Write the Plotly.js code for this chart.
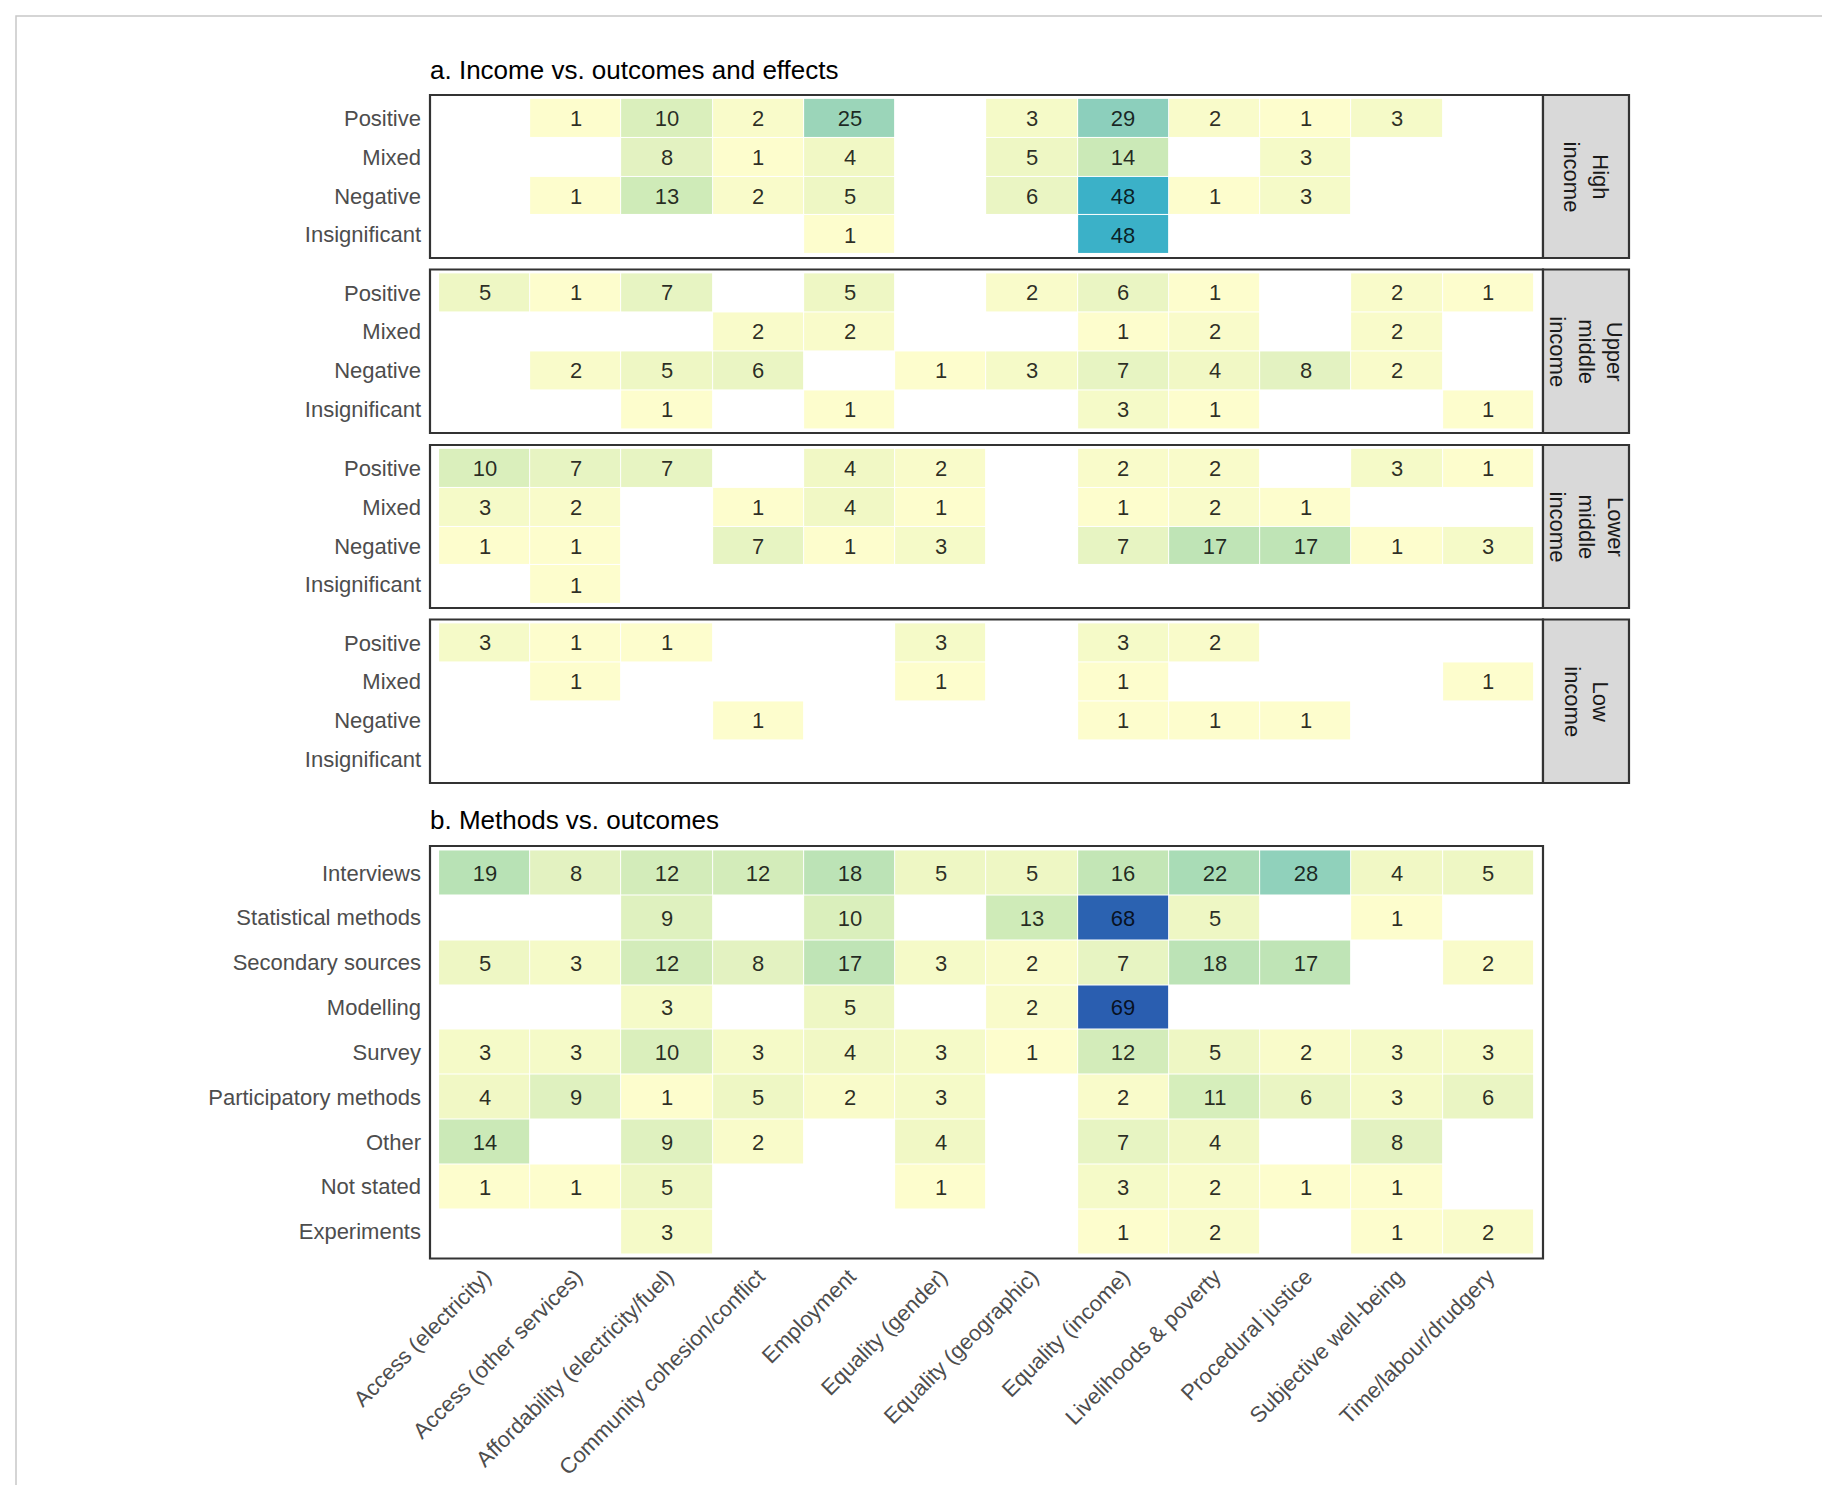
<!DOCTYPE html>
<html>
<head>
<meta charset="utf-8">
<script src="https://cdn.plot.ly/plotly-3.0.1.min.js"></script>
<style>
  html, body { margin: 0; padding: 0; background: #ffffff; }
  #chart { width: 1822px; height: 1485px; }
</style>
</head>
<body>
<div id="chart"></div>
<script>
// ---------------- DATA ----------------
const outcomes = [
  'Access (electricity)', 'Access (other services)', 'Affordability (electricity/fuel)',
  'Community cohesion/conflict', 'Employment', 'Equality (gender)', 'Equality (geographic)',
  'Equality (income)', 'Livelihoods & poverty', 'Procedural justice',
  'Subjective well-being', 'Time/labour/drudgery'
];
const effects = ['Positive', 'Mixed', 'Negative', 'Insignificant'];
const incomeStrips = ['High<br>income', 'Upper<br>middle<br>income', 'Lower<br>middle<br>income', 'Low<br>income'];

const highIncome = [
  [null, 1, 10, 2, 25, null, 3, 29, 2, 1, 3, null],
  [null, null, 8, 1, 4, null, 5, 14, null, 3, null, null],
  [null, 1, 13, 2, 5, null, 6, 48, 1, 3, null, null],
  [null, null, null, null, 1, null, null, 48, null, null, null, null]
];
const upperMiddleIncome = [
  [5, 1, 7, null, 5, null, 2, 6, 1, null, 2, 1],
  [null, null, null, 2, 2, null, null, 1, 2, null, 2, null],
  [null, 2, 5, 6, null, 1, 3, 7, 4, 8, 2, null],
  [null, null, 1, null, 1, null, null, 3, 1, null, null, 1]
];
const lowerMiddleIncome = [
  [10, 7, 7, null, 4, 2, null, 2, 2, null, 3, 1],
  [3, 2, null, 1, 4, 1, null, 1, 2, 1, null, null],
  [1, 1, null, 7, 1, 3, null, 7, 17, 17, 1, 3],
  [null, 1, null, null, null, null, null, null, null, null, null, null]
];
const lowIncome = [
  [3, 1, 1, null, null, 3, null, 3, 2, null, null, null],
  [null, 1, null, null, null, 1, null, 1, null, null, null, 1],
  [null, null, null, 1, null, null, null, 1, 1, 1, null, null],
  [null, null, null, null, null, null, null, null, null, null, null, null]
];

const methods = ['Interviews', 'Statistical methods', 'Secondary sources', 'Modelling', 'Survey',
  'Participatory methods', 'Other', 'Not stated', 'Experiments'];
const methodsByOutcome = [
  [19, 8, 12, 12, 18, 5, 5, 16, 22, 28, 4, 5],
  [null, null, 9, null, 10, null, 13, 68, 5, null, 1, null],
  [5, 3, 12, 8, 17, 3, 2, 7, 18, 17, null, 2],
  [null, null, 3, null, 5, null, 2, 69, null, null, null, null],
  [3, 3, 10, 3, 4, 3, 1, 12, 5, 2, 3, 3],
  [4, 9, 1, 5, 2, 3, null, 2, 11, 6, 3, 6],
  [14, null, 9, 2, null, 4, null, 7, 4, null, 8, null],
  [1, 1, 5, null, null, 1, null, 3, 2, 1, 1, null],
  [null, null, 3, null, null, null, null, 1, 2, null, 1, 2]
];

const titleA = 'a. Income vs. outcomes and effects';
const titleB = 'b. Methods vs. outcomes';

// ---------------- STYLE / GEOMETRY ----------------
const W = 1822, H = 1485;
const px = v => v / W;
const py = v => 1 - v / H;
const FONT = '"Liberation Sans", Arial, Helvetica, sans-serif';

const ZMIN = 1, ZMAX = 69;
const anchors = [
  [1, '#fdfdcd'], [4, '#f1f8c5'], [8, '#e3f2c1'], [10, '#daefbc'], [14, '#cbe9b7'],
  [17, '#bfe4b6'], [19, '#b8e2b5'], [22, '#a9dcb6'], [25, '#9bd5b9'], [29, '#8ccfbc'],
  [48, '#3bb1c8'], [69, '#2a5eb0']
];
const colorscale = anchors.map(a => [(a[0] - ZMIN) / (ZMAX - ZMIN), a[1]]);

const plotLeft = 430, plotRight = 1543, stripRight = 1629;
const facetsPx = [[95, 258], [269.5, 433], [445, 608], [619.5, 783]];
const panelBPx = [846, 1258.5];

const xIdx = outcomes.map((_, i) => i);

const facetData = [highIncome, upperMiddleIncome, lowerMiddleIncome, lowIncome];

const traces = [];
const layout = {
  width: W, height: H,
  margin: {l: 0, r: 0, t: 0, b: 0},
  paper_bgcolor: '#ffffff', plot_bgcolor: '#ffffff',
  font: {family: FONT, size: 22, color: '#4d4d4d'},
  showlegend: false,
  shapes: [], annotations: []
};

function heat(z, rows, n) {
  const suffix = n === 1 ? '' : String(n);
  traces.push({
    type: 'heatmap',
    x: xIdx,
    y: rows.map((_, i) => i),
    z: z,
    zmin: ZMIN, zmax: ZMAX,
    colorscale: colorscale,
    showscale: false,
    xgap: 1, ygap: 1,
    texttemplate: '%{z}',
    textfont: {family: FONT, size: 22, color: 'rgba(0,0,0,0.82)'},
    hoverinfo: 'skip',
    xaxis: 'x' + suffix, yaxis: 'y' + suffix
  });
}

function axes(n, yRange, rows, domPx, showX) {
  const suffix = n === 1 ? '' : String(n);
  layout['xaxis' + suffix] = {
    domain: [px(plotLeft), px(plotRight)],
    anchor: 'y' + suffix,
    range: [-0.6, outcomes.length - 0.4],
    tickmode: 'array', tickvals: xIdx, ticktext: outcomes,
    showticklabels: showX, tickangle: -45,
    tickfont: {family: FONT, size: 22, color: '#4d4d4d'},
    ticks: '', showgrid: false, zeroline: false, showline: false,
    fixedrange: true
  };
  layout['yaxis' + suffix] = {
    domain: [py(domPx[1]), py(domPx[0])],
    anchor: 'x' + suffix,
    range: [rows.length - 0.4, -0.6],
    tickmode: 'array', tickvals: rows.map((_, i) => i), ticktext: rows,
    tickfont: {family: FONT, size: 22, color: '#4d4d4d'},
    ticks: '', ticklabelstandoff: 8,
    showgrid: false, zeroline: false, showline: false,
    fixedrange: true
  };
  layout.shapes.push({
    type: 'rect', xref: 'paper', yref: 'paper',
    x0: px(plotLeft), x1: px(plotRight), y0: py(domPx[1]), y1: py(domPx[0]),
    line: {color: '#333333', width: 2.2}, fillcolor: 'rgba(0,0,0,0)', layer: 'above'
  });
}

facetData.forEach((z, i) => {
  heat(z, effects, i + 1);
  axes(i + 1, null, effects, facetsPx[i], false);
  // strip
  layout.shapes.push({
    type: 'rect', xref: 'paper', yref: 'paper',
    x0: px(plotRight), x1: px(stripRight), y0: py(facetsPx[i][1]), y1: py(facetsPx[i][0]),
    line: {color: '#333333', width: 2.2}, fillcolor: '#d9d9d9', layer: 'above'
  });
  layout.annotations.push({
    xref: 'paper', yref: 'paper',
    x: px((plotRight + stripRight) / 2), y: py((facetsPx[i][0] + facetsPx[i][1]) / 2),
    text: incomeStrips[i], textangle: 90, showarrow: false,
    xanchor: 'center', yanchor: 'middle',
    font: {family: FONT, size: 22, color: '#1a1a1a'}
  });
});

heat(methodsByOutcome, methods, 5);
axes(5, null, methods, panelBPx, true);

// panel titles
layout.annotations.push({
  xref: 'paper', yref: 'paper', x: px(428), y: py(70),
  text: titleA, showarrow: false, xanchor: 'left', yanchor: 'middle',
  font: {family: FONT, size: 26, color: '#000000'}
});
layout.annotations.push({
  xref: 'paper', yref: 'paper', x: px(428), y: py(820),
  text: titleB, showarrow: false, xanchor: 'left', yanchor: 'middle',
  font: {family: FONT, size: 26, color: '#000000'}
});

// outer light frame (top & left edges visible)
layout.shapes.push({
  type: 'rect', xref: 'paper', yref: 'paper',
  x0: px(16), x1: 1.2, y0: -0.2, y1: py(16),
  line: {color: '#c8c8c8', width: 1.5}, fillcolor: 'rgba(0,0,0,0)', layer: 'below'
});

Plotly.newPlot('chart', traces, layout, {staticPlot: true, displayModeBar: false});
</script>
</body>
</html>
